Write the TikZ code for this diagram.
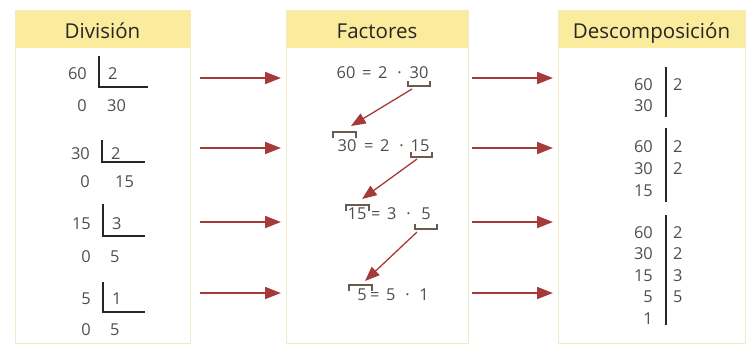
\documentclass[tikz,border=0pt]{standalone}
\usepackage{fontspec}
\setmainfont{Open Sans}
\usetikzlibrary{arrows.meta,positioning,calc}
\definecolor{ink}{HTML}{262626}
\definecolor{numtx}{HTML}{4F4F4F}
\definecolor{headfill}{HTML}{FBEB9C}
\definecolor{frameln}{HTML}{EFEBC6}
\definecolor{arrowred}{HTML}{A63A3A}
\definecolor{brackln}{HTML}{6B5B4C}
\newcommand{\headfont}{\fontsize{17.5}{21}\selectfont}
\newcommand{\numfont}{\fontsize{14}{17}\selectfont}
\newcommand{\panel}[4]{%
  \fill[white] (#2,10) rectangle (#3,343);
  \fill[headfill] (#2,10) rectangle (#3,48);
  \draw[frameln,line width=0.8pt] (#2,10) rectangle (#3,343);
  \node[font=\headfont,text=ink,anchor=base] (#1) at ({(#2+#3)/2},38) {#4};}
\newcommand{\ubrk}[3]{\draw[brk] (#1,#3-5) -- (#1,#3) -- (#2,#3) -- (#2,#3-5);}
\newcommand{\obrk}[3]{\draw[brk] (#1,#3+6) -- (#1,#3) -- (#2,#3) -- (#2,#3+6);}
\newcommand{\factrow}[8]{%
  \node[num] (#1l) at (#3,#2) {#4};
  \node[num,anchor=west] (#1m) at (#5,#2) {=\hspace{5.5pt}#6\hspace{8.5pt}·};
  \node[num] (#1r) at (#7,#2) {#8};}

\begin{document}
\begin{tikzpicture}[x=0.03cm,y=-0.03cm,
    num/.style={font=\numfont,text=numtx,inner sep=0pt},
    divln/.style={draw=ink,line width=1.2pt},
    brk/.style={draw=brackln,line width=1pt},
    redarr/.style={-{Triangle[length=4.8mm,width=3.6mm]},arrowred,line width=1.6pt}]
  \useasboundingbox (0,0) rectangle (752,351);

  % The three columns
  \panel{divhead}{15}{190}{División}
  \panel{facthead}{286}{468}{Factores}
  \panel{deschead}{558}{745}{Descomposición}

  % Division column
  \foreach \i/\n/\d/\q/\xb/\xe/\ya/\yt/\yb/\yq/\qo in
      {1/60/2/30/99/148/74/56/87/106/8, 2/30/2/15/102/145/154/140/162/182/13,
       3/15/3/5/103/145/224/204/236/257/7, 4/5/1/5/103/145/299/282/312/330/7}{
    \node[num,anchor=east] (dn\i) at (\xb-12,\ya) {\n};
    \node[num,anchor=west] (dd\i) at (\xb+9,\ya) {\d};
    \node[num] (dr\i) at (\xb-17,\yq) {0};
    \node[num,anchor=west] (dq\i) at (\xb+\qo,\yq) {\q};
    \draw[divln] (\xb,\yt) -- (\xb,\yb) -- (\xe,\yb);}

  % Factores column
  \factrow{fa}{73}{346}{60}{362}{2}{419}{30}
  \factrow{fb}{146}{347}{30}{364}{2}{420}{15}
  \factrow{fc}{214}{357}{15}{371}{3}{426}{5}
  \factrow{fd}{295}{362}{5}{370}{5}{424}{1}
  \ubrk{408}{430}{86}
  \obrk{333}{356}{132}
  \ubrk{411}{432}{157}
  \obrk{346}{369}{205}
  \ubrk{415}{437}{229}
  \obrk{349}{372}{285}
  \coordinate (ua) at (412,89);  \coordinate (ob) at (351,126);
  \coordinate (ub) at (417,159); \coordinate (oc) at (362,199);
  \coordinate (uc) at (417,232); \coordinate (od) at (365,281);
  \begin{scope}[-{Triangle[length=4.4mm,width=3.4mm]},arrowred,line width=1.1pt]
    \draw (ua) -- (ob);
    \draw (ub) -- (oc);
    \draw (uc) -- (od);
  \end{scope}

  % Descomposicion column
  \foreach \i/\n/\y in {1/60/85, 2/30/106}
    \node[num,anchor=east] (ka\i) at (653,\y) {\n};
  \node[num,anchor=west] (kad1) at (673,85) {2};
  \draw[divln] (666,67) -- (666,117);
  \foreach \i/\n/\y in {1/60/147, 2/30/169, 3/15/191}
    \node[num,anchor=east] (kb\i) at (653,\y) {\n};
  \foreach \i/\d/\y in {1/2/147, 2/2/169}
    \node[num,anchor=west] (kbd\i) at (673,\y) {\d};
  \draw[divln] (666,128) -- (666,202);
  \foreach \i/\n/\y in {1/60/233, 2/30/254, 3/15/276, 4/5/297, 5/1/319}
    \node[num,anchor=east] (kc\i) at (653,\y) {\n};
  \foreach \i/\d/\y in {1/2/233, 2/2/254, 3/3/276, 4/5/297}
    \node[num,anchor=west] (kcd\i) at (673,\y) {\d};
  \draw[divln] (666,215) -- (666,325);

  % Arrows between the columns
  \foreach \y [count=\i] in {78,148,222,293}{
    \coordinate (la\i) at (200,\y); \coordinate (lb\i) at (281,\y);
    \coordinate (ra\i) at (472,\y); \coordinate (rb\i) at (553,\y);
    \draw[redarr] (la\i) -- (lb\i);
    \draw[redarr] (ra\i) -- (rb\i);}
\end{tikzpicture}
\end{document}
